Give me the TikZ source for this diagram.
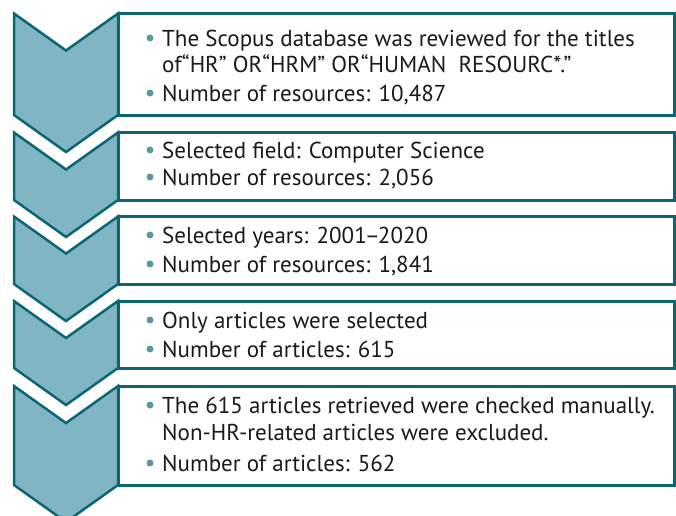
\documentclass[tikz,border=0pt]{standalone}
\usepackage{fontspec}
\setmainfont{PT Sans}
\begin{document}
\definecolor{edgeteal}{HTML}{0C6672}
\definecolor{chevfill}{HTML}{80B5C4}
\definecolor{dotcol}{HTML}{5F95A3}
\definecolor{ink}{HTML}{1A1A1A}
\newcommand\itemfont{\fontsize{23}{27}\selectfont}
\begin{tikzpicture}[x=1pt,y=-1pt,
  chevron/.style={fill=chevfill, draw=edgeteal, line width=2.5pt, line join=miter},
  stepframe/.style={draw=edgeteal, line width=3pt, fill=white},
  itemtext/.style={anchor=base west, inner sep=0pt, text=ink, font=\itemfont},
  bulletdot/.style={circle, fill=dotcol, inner sep=0pt, minimum size=7pt}]
\useasboundingbox (0,0) rectangle (676,515);
\begin{scope}
\clip (0,0) rectangle (676,515);
% chevrons: left 14, right 118, notch/tip depth 37
\foreach \t/\b in {13.5/115, 132.5/200, 216.5/284, 301/368, 386/485}{
  \draw[chevron] (14,\t) -- (66,\t+37) -- (118,\t) -- (118,\b) -- (66,\b+37) -- (14,\b) -- cycle;
}
\end{scope}
% text frames
\draw[stepframe] (118,13.5) rectangle (674,115);
\draw[stepframe] (118,132.5) rectangle (674,200);
\draw[stepframe] (118,216.5) rectangle (674,284);
\draw[stepframe] (118,301) rectangle (674,368);
\draw[stepframe] (118,386) rectangle (674,485);
% step 1
\node[bulletdot] (d11) at (150,38) {};
\node[itemtext] (t11) at (162,46) {The Scopus database was reviewed for the titles};
\node[itemtext] (t12) at (162,72) {of“HR” OR“HRM” OR“HUMAN\ \ RESOURC*.”};
\node[bulletdot] (d12) at (150,93) {};
\node[itemtext] (t13) at (162,101) {Number of resources: 10,487};
% step 2
\node[bulletdot] (d21) at (150,150) {};
\node[itemtext] (t21) at (162,158) {Selected field: Computer Science};
\node[bulletdot] (d22) at (150,177) {};
\node[itemtext] (t22) at (162,185) {Number of resources: 2,056};
% step 3
\node[bulletdot] (d31) at (150,235) {};
\node[itemtext] (t31) at (162,243) {Selected years: 2001\kern-2pt–\kern-2pt2020};
\node[bulletdot] (d32) at (150,264) {};
\node[itemtext] (t32) at (162,272) {Number of resources: 1,841};
% step 4
\node[bulletdot] (d41) at (150,320) {};
\node[itemtext] (t41) at (162,328) {Only articles were selected};
\node[bulletdot] (d42) at (150,349) {};
\node[itemtext] (t42) at (162,357) {Number of articles: 615};
% step 5
\node[bulletdot] (d51) at (150,405) {};
\node[itemtext] (t51) at (162,413) {The 615 articles retrieved were checked manually.};
\node[itemtext] (t52) at (162,440) {Non-HR-related articles were excluded.};
\node[bulletdot] (d53) at (150,463) {};
\node[itemtext] (t53) at (162,471) {Number of articles: 562};
\end{tikzpicture}
\end{document}
